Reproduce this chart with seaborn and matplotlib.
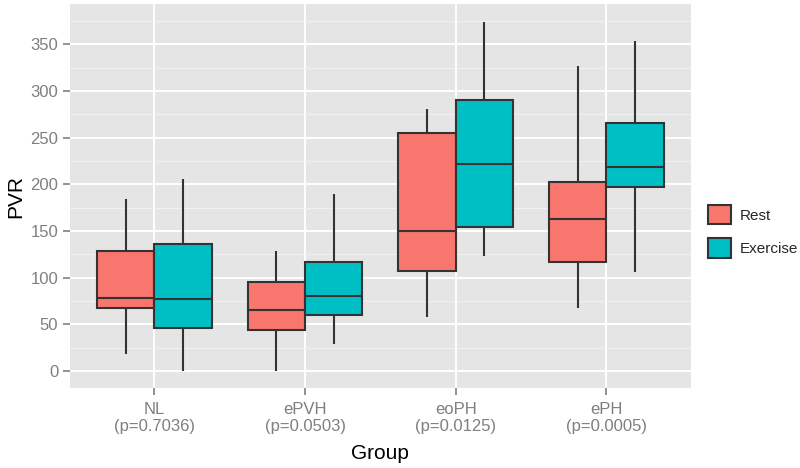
import numpy as np
import pandas as pd
import matplotlib
matplotlib.use("Agg")
import matplotlib.pyplot as plt
import seaborn as sns

# categories and conditions
groups = ["NL", "ePVH", "eoPH", "ePH"]
p_values = ["0.7036", "0.0503", "0.0125", "0.0005"]
conditions = ["Rest", "Exercise"]

# five-number summaries: min, q1, median, q3, max
rest_stats = [
    [18, 68, 78, 129, 184],
    [0, 44, 65, 95, 129],
    [58, 107, 150, 255, 281],
    [68, 117, 163, 203, 327],
]
exercise_stats = [
    [0, 46, 77, 136, 206],
    [29, 60, 81, 117, 190],
    [123, 154, 222, 290, 374],
    [106, 197, 219, 266, 354],
]

# long table for seaborn
rows = []
for g, rs, es in zip(groups, rest_stats, exercise_stats):
    for v in rs:
        rows.append({"Group": g, "Condition": "Rest", "PVR": v})
    for v in es:
        rows.append({"Group": g, "Condition": "Exercise", "PVR": v})
df = pd.DataFrame(rows)

sns.set_style("darkgrid", {"axes.facecolor": "#E5E5E5", "grid.color": "white"})
plt.rcParams["font.family"] = ["Liberation Sans", "DejaVu Sans"]

fig = plt.figure(figsize=(8, 4.68), dpi=100)
ax = fig.add_axes([0.0875, 0.171, 0.776, 0.82])

sns.boxplot(data=df, x="Group", y="PVR", hue="Condition", order=groups,
            hue_order=conditions, palette=["#F8766D", "#00BFC4"],
            width=0.76, gap=0, whis=(0, 100), linewidth=1.5,
            linecolor="#333333", saturation=1, showcaps=False, ax=ax)

ax.set_xlim(-0.56, 3.56)
ax.set_ylim(-18, 393)
ax.set_yticks(np.arange(0, 351, 50))
ax.set_yticks(np.arange(25, 376, 50), minor=True)
ax.set_xticks(range(len(groups)))
ax.set_xticklabels([f"{g}\n(p={p})" for g, p in zip(groups, p_values)])

ax.grid(which="major", color="white", linewidth=1.4)
ax.grid(which="minor", axis="y", color="#F2F2F2", linewidth=0.7)
ax.set_axisbelow(True)
for s in ax.spines.values():
    s.set_visible(False)

ax.tick_params(axis="both", which="major", labelsize=12, labelcolor="#7F7F7F",
               color="#7F7F7F", length=5, width=1.2, bottom=True, left=True)
ax.tick_params(axis="x", which="major", pad=5)
ax.tick_params(axis="y", which="minor", length=0)
ax.set_xlabel("Group", fontsize=15, color="black", labelpad=7)
ax.set_ylabel("PVR", fontsize=15, color="black", labelpad=4)

handles, labels = ax.get_legend_handles_labels()
ax.legend(handles, labels, loc="center left", bbox_to_anchor=(0.868, 0.506),
          bbox_transform=fig.transFigure, frameon=False, fontsize=11,
          handlelength=1.5, handleheight=1.6, labelspacing=0.9, handletextpad=0.6)

fig.savefig("out.png", dpi=100)
